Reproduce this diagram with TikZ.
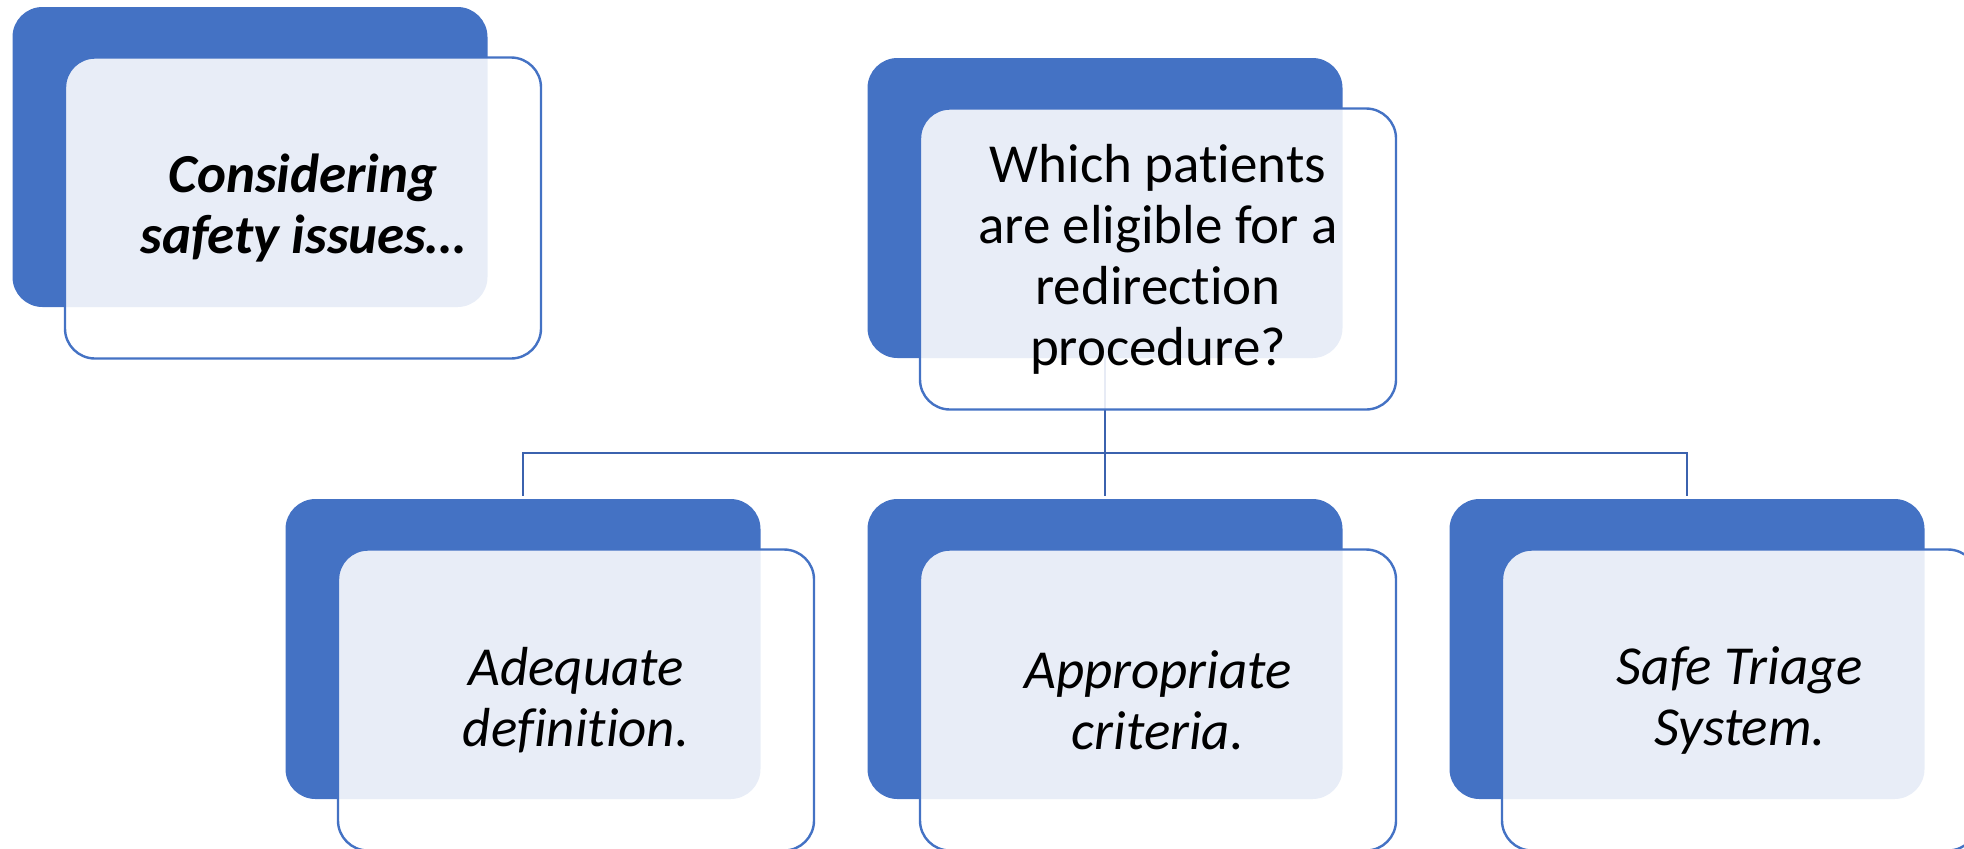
\documentclass[tikz,border=0pt]{standalone}
\usepackage{fontspec}
\setmainfont[Ligatures={NoCommon}]{Carlito}
\pgfdeclarelayer{background}
\pgfsetlayers{background,main}
\definecolor{boxblue}{HTML}{4472C4}
\definecolor{linkblue}{HTML}{3B62AE}

\begin{document}
\begin{tikzpicture}[x=0.5pt, y=-0.5pt,
  back/.style={rectangle, rounded corners=15pt, fill=boxblue, minimum width=237.5pt, minimum height=150pt, inner sep=0pt},
  front/.style={rectangle, rounded corners=15pt, draw=boxblue, line width=1.2pt, fill=white, fill opacity=0.88, text opacity=1, minimum width=238pt, minimum height=150.5pt, inner sep=0pt, align=center, font=\fontsize{27.5}{30.5}\selectfont},
  link/.style={draw=linkblue, line width=1.2pt}]
  \useasboundingbox (0,0) rectangle (1964,848);

  % back plates
  \node[back] (tlback) at (250,157) {};
  \node[back] (qback) at (1105,208) {};
  \node[back] (defback) at (523,649) {};
  \node[back] (critback) at (1105,649) {};
  \node[back] (triback) at (1687,649) {};

  % front cards
  \node[front] (safety) at ([shift={(53,51)}]tlback.center) {\bfseries\itshape Considering\\\bfseries\itshape safety issues…};
  \node[front] (question) at ([shift={(53,51)}]qback.center) {Which patients\\are eligible for a\\redirection\\procedure?};
  \node[front] (definition) at ([shift={(53,51)}]defback.center) {\itshape Adequate\\\itshape definition.};
  \node[front] (criteria) at ([shift={(53,51)}]critback.center) {\itshape Appropriate\\\itshape criteria.};
  \node[front] (triage) at ([shift={(53,51)}]triback.center) {\itshape Safe Triage\\\itshape System.};

  \begin{pgfonlayer}{background}
    \coordinate (bus) at (0,453);
    \draw[link] (qback.south) -- (qback.south |- bus) -| ([yshift=1.5pt]defback.north);
    \draw[link] (qback.south) -- ([yshift=1.5pt]critback.north);
    \draw[link] (qback.south |- bus) -| ([yshift=1.5pt]triback.north);
  \end{pgfonlayer}
\end{tikzpicture}
\end{document}
